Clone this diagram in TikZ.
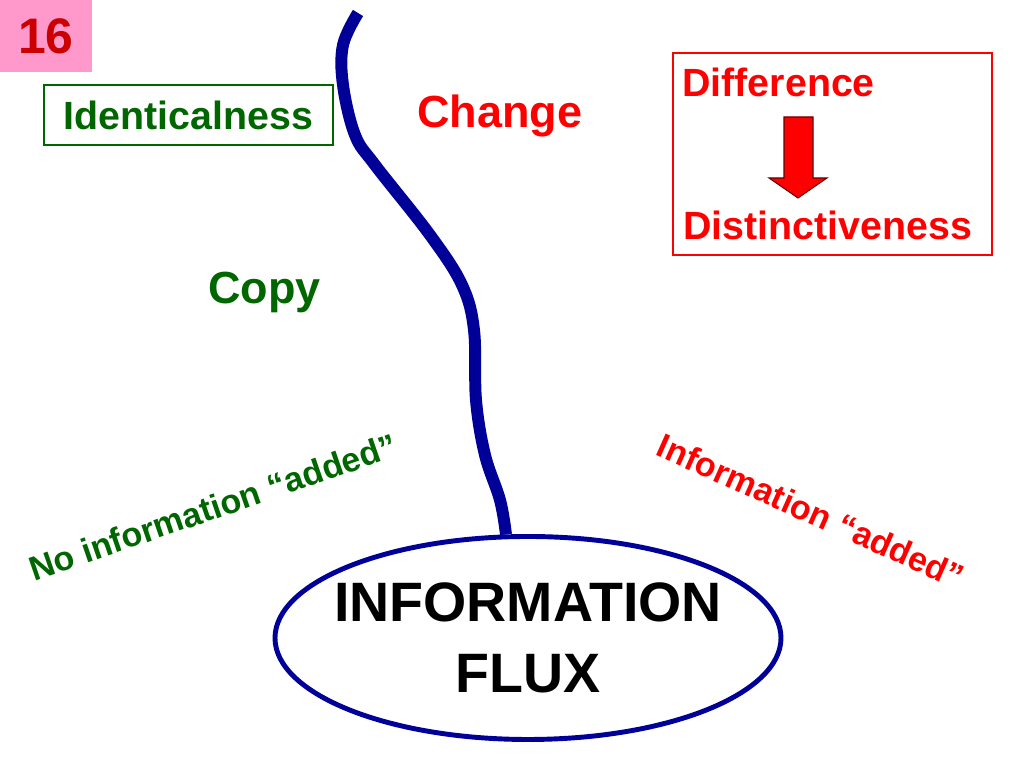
\documentclass[tikz,border=0pt]{standalone}
\usepackage{fontspec}
\setmainfont{Liberation Sans}
\usetikzlibrary{shapes.geometric}

\definecolor{slidegreen}{RGB}{0,102,0}
\definecolor{slidered}{RGB}{255,0,0}
\definecolor{slideblue}{RGB}{0,0,153}
\definecolor{slidepink}{RGB}{255,153,204}
\definecolor{numred}{RGB}{204,0,0}

\begin{document}
\begin{tikzpicture}[
  word/.style={font=\fontsize{22.4}{27}\selectfont\bfseries, inner sep=0pt},
  bigword/.style={font=\fontsize{25.6}{30}\selectfont\bfseries, inner sep=0pt},
  slant/.style={font=\fontsize{19.4}{23}\selectfont\bfseries, inner sep=0pt},
  frame/.style={draw, line width=0.8pt, inner sep=0pt},
  ring/.style={ellipse, draw=slideblue, line width=2.8pt, fill=white, align=center,
    inner xsep=-0.35cm, inner ysep=0pt, minimum width=10.12cm, minimum height=4.06cm,
    font=\fontsize{31.6}{40.4}\selectfont\bfseries},
  trail/.style={draw=slideblue, line width=6.8pt},
  blockarrow/.style={fill=slidered, draw=red!40!black, line width=0.6pt}
]
\useasboundingbox (0,0) rectangle (20.48,15.36);

\node[fill=slidepink, minimum width=1.84cm, minimum height=1.44cm, inner sep=0pt,
  text=numred, font=\fontsize{28.4}{34}\selectfont\bfseries] (num) at (0.92,14.64) {16};

\node[frame, word, draw=slidegreen, text=slidegreen, minimum width=5.78cm, minimum height=1.2cm]
  (same) at (3.77,13.06) {Identicalness};
\node[bigword, text=slidered, anchor=base] (change) at (10.0,12.8) {Change};
\node[bigword, text=slidegreen, anchor=base] (copy) at (5.29,9.28) {Copy};

\node[frame, draw=slidered, minimum width=6.38cm, minimum height=4.04cm] (diffbox) at (16.65,12.28) {};
\node[word, text=slidered, anchor=base west] (diff) at (13.64,13.42) {Difference};
\node[word, text=slidered, anchor=base west] (dist) at (13.66,10.56) {Distinctiveness};
\draw[blockarrow] (15.68,13.02) -- (16.26,13.02) -- (16.26,11.80) -- (16.54,11.80)
  -- (15.96,11.40) -- (15.38,11.80) -- (15.68,11.80) -- cycle;

\node[slant, text=slidegreen, rotate=19] (noinfo) at (4.26,5.22) {No information “added”};
\node[slant, text=slidered, rotate=-24] (info) at (16.22,5.14) {Information “added”};

\node[ring] (flux) at (10.56,2.60) {INFORMATION\\FLUX};

\coordinate (source) at (7.16,15.10);
\draw[trail] plot[smooth, tension=0.6] coordinates {(source) (6.86,14.46) (6.86,13.66)
  (7.10,12.66) (7.50,12.06) (8.60,10.66) (9.24,9.66) (9.48,8.76) (9.52,7.36)
  (9.70,6.26) (10.00,5.36) (flux.102)};

\end{tikzpicture}
\end{document}
